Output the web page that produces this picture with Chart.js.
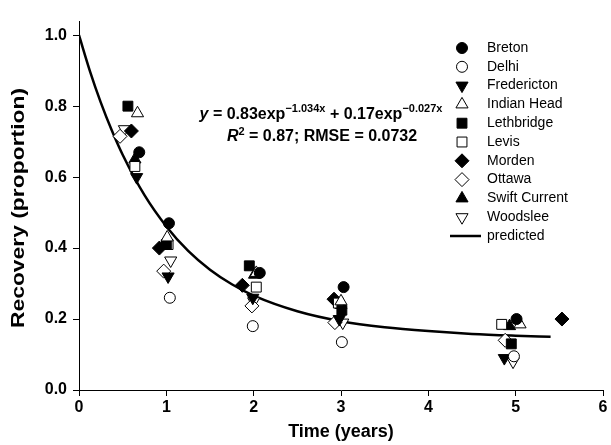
<!DOCTYPE html>
<html>
<head>
<meta charset="utf-8">
<script src="https://cdn.jsdelivr.net/npm/chart.js@4.4.0/dist/chart.umd.min.js"></script>
<style>
  body { margin: 0; background: #fff; }
</style>
</head>
<body>
<canvas id="recovery" width="611" height="445"></canvas>
<script>
// site observations, [time (years), recovery proportion]
const sites = ['Breton', 'Delhi', 'Fredericton', 'Indian Head', 'Lethbridge', 'Levis', 'Morden', 'Ottawa', 'Swift Current', 'Woodslee'];

const breton = [[0.69, 0.67], [1.03, 0.47], [2.07, 0.33], [3.03, 0.29], [5.01, 0.20]];
const delhi = [[1.04, 0.26], [1.99, 0.18], [3.01, 0.135], [4.98, 0.095]];
const fredericton = [[0.66, 0.60], [1.02, 0.32], [1.99, 0.26], [2.98, 0.20], [4.87, 0.09]];
const indianHead = [[0.67, 0.78], [1.01, 0.43], [2.03, 0.33], [3.0, 0.25], [5.05, 0.185]];
const lethbridge = [[0.56, 0.80], [1.0, 0.41], [1.95, 0.35], [3.01, 0.225], [4.95, 0.13]];
const levis = [[0.64, 0.63], [1.02, 0.41], [2.03, 0.29], [2.97, 0.245], [4.84, 0.185]];
const morden = [[0.60, 0.73], [0.92, 0.40], [1.87, 0.295], [2.92, 0.256], [5.53, 0.20]];
const ottawa = [[0.47, 0.715], [0.97, 0.335], [1.98, 0.237], [2.93, 0.19], [4.88, 0.14]];
const swiftCurrent = [[0.64, 0.65], [1.0, 0.42], [2.01, 0.325], [3.0, 0.24], [4.93, 0.18]];
const woodslee = [[0.52, 0.735], [1.05, 0.365], [2.0, 0.25], [3.02, 0.19], [4.97, 0.08]];

// fitted curve
const predX = [0, 0.125, 0.25, 0.375, 0.5, 0.75, 1, 1.25, 1.5, 1.75, 2, 2.5, 3, 3.5, 4, 4.5, 5, 5.4];
const predY = [1.0, 0.899, 0.810, 0.732, 0.663, 0.549, 0.461, 0.392, 0.339, 0.298, 0.266, 0.222, 0.194, 0.177, 0.166, 0.158, 0.153, 0.150];

const yTicks = [0, 0.2, 0.4, 0.6, 0.8, 1.0];

const siteData = [breton, delhi, fredericton, indianHead, lethbridge, levis, morden, ottawa, swiftCurrent, woodslee];

// marker per site: style, filled, radius, rotation
const markers = [
  ['circle', true, 5.5, 0],
  ['circle', false, 5.5, 0],
  ['triangle', true, 7, 180],
  ['triangle', false, 7, 0],
  ['rect', true, 7, 0],
  ['rect', false, 7, 0],
  ['rectRot', true, 7, 0],
  ['rectRot', false, 7, 0],
  ['triangle', true, 7, 0],
  ['triangle', false, 7, 180]
];

const FONT = "'Liberation Sans', Arial, sans-serif";

const datasets = sites.map((name, i) => {
  const [style, filled, r, rot] = markers[i];
  return {
    label: name,
    data: siteData[i].map(p => ({ x: p[0], y: p[1] })),
    pointStyle: style,
    pointRadius: r,
    pointHoverRadius: r,
    pointRotation: rot,
    backgroundColor: filled ? '#000' : '#fff',
    borderColor: '#000',
    borderWidth: 1,
    showLine: false
  };
});

datasets.push({
  type: 'line',
  label: 'predicted',
  data: predX.map((x, i) => ({ x: x, y: predY[i] })),
  borderColor: '#000',
  borderWidth: 2.5,
  pointRadius: 0,
  fill: false,
  cubicInterpolationMode: 'monotone',
  order: 1
});

const overlay = {
  id: 'overlay',
  afterDraw(chart) {
    const ctx = chart.ctx;
    ctx.save();

    // legend
    const lx = 462, tx = 487, top = 48, step = 18.8;
    ctx.font = '14px ' + FONT;
    ctx.textBaseline = 'middle';
    ctx.textAlign = 'left';
    sites.forEach((name, i) => {
      const [style, filled, r, rot] = markers[i];
      const y = top + i * step;
      ctx.fillStyle = filled ? '#000' : '#fff';
      ctx.strokeStyle = '#000';
      ctx.lineWidth = 1;
      Chart.helpers.drawPoint(ctx, { pointStyle: style, radius: r, rotation: rot, borderWidth: 1 }, lx, y);
      ctx.fillStyle = '#000';
      ctx.fillText(name, tx, y);
    });
    const py = top + sites.length * step;
    ctx.beginPath();
    ctx.moveTo(450, py);
    ctx.lineTo(481, py);
    ctx.lineWidth = 2.5;
    ctx.strokeStyle = '#000';
    ctx.stroke();
    ctx.fillText('predicted', tx, py);

    // y axis title, stretched along its length like the original
    ctx.save();
    ctx.translate(19, 208);
    ctx.rotate(-Math.PI / 2);
    ctx.scale(1.27, 1);
    ctx.font = 'bold 18px ' + FONT;
    ctx.textAlign = 'center';
    ctx.textBaseline = 'middle';
    ctx.fillText('Recovery (proportion)', 0, 0);
    ctx.restore();

    // equation
    const big = 'bold 16px ' + FONT;
    const bigIt = 'italic bold 16px ' + FONT;
    const sup = 'bold 11px ' + FONT;
    const line1 = [['y', bigIt, 0], [' = 0.83exp', big, 0], ['\u22121.034x', sup, -7], [' + 0.17exp', big, 0], ['\u22120.027x', sup, -7]];
    const line2 = [['R', bigIt, 0], ['2', sup, -6], [' = 0.87; RMSE = 0.0732', big, 0]];
    ctx.textBaseline = 'alphabetic';
    ctx.textAlign = 'left';
    const drawRuns = (runs, cx, by) => {
      let w = 0;
      runs.forEach(([t, f]) => { ctx.font = f; w += ctx.measureText(t).width; });
      let x = cx - w / 2;
      runs.forEach(([t, f, dy]) => {
        ctx.font = f;
        ctx.fillText(t, x, by + dy);
        x += ctx.measureText(t).width;
      });
    };
    ctx.fillStyle = '#000';
    drawRuns(line1, 321, 119);
    drawRuns(line2, 322, 141);

    ctx.restore();
  }
};

new Chart(document.getElementById('recovery'), {
  type: 'scatter',
  data: { datasets: datasets },
  options: {
    responsive: false,
    animation: false,
    events: [],
    layout: { padding: { top: 21, right: 4, left: 0, bottom: 0 } },
    plugins: {
      legend: { display: false },
      tooltip: { enabled: false }
    },
    scales: {
      x: {
        type: 'linear',
        min: 0,
        max: 6,
        ticks: {
          stepSize: 1,
          color: '#000',
          padding: 2,
          font: { family: FONT, size: 16, weight: 'bold' }
        },
        grid: { drawOnChartArea: false, tickLength: 6, color: '#000' },
        border: { color: '#000', width: 1 },
        title: {
          display: true,
          text: 'Time (years)',
          color: '#000',
          padding: { top: 0, bottom: 2 },
          font: { family: FONT, size: 18, weight: 'bold' }
        },
        afterFit: s => { s.height = 55; }
      },
      y: {
        type: 'linear',
        min: 0,
        max: 1.04,
        afterBuildTicks: s => { s.ticks = yTicks.map(v => ({ value: v })); },
        ticks: {
          color: '#000',
          padding: 6,
          callback: v => v.toFixed(1),
          font: { family: FONT, size: 16, weight: 'bold' }
        },
        grid: { drawOnChartArea: false, tickLength: 6, color: '#000' },
        border: { color: '#000', width: 1 },
        title: { display: false },
        afterFit: s => { s.width = 79; }
      }
    }
  },
  plugins: [overlay]
});
</script>
</body>
</html>
